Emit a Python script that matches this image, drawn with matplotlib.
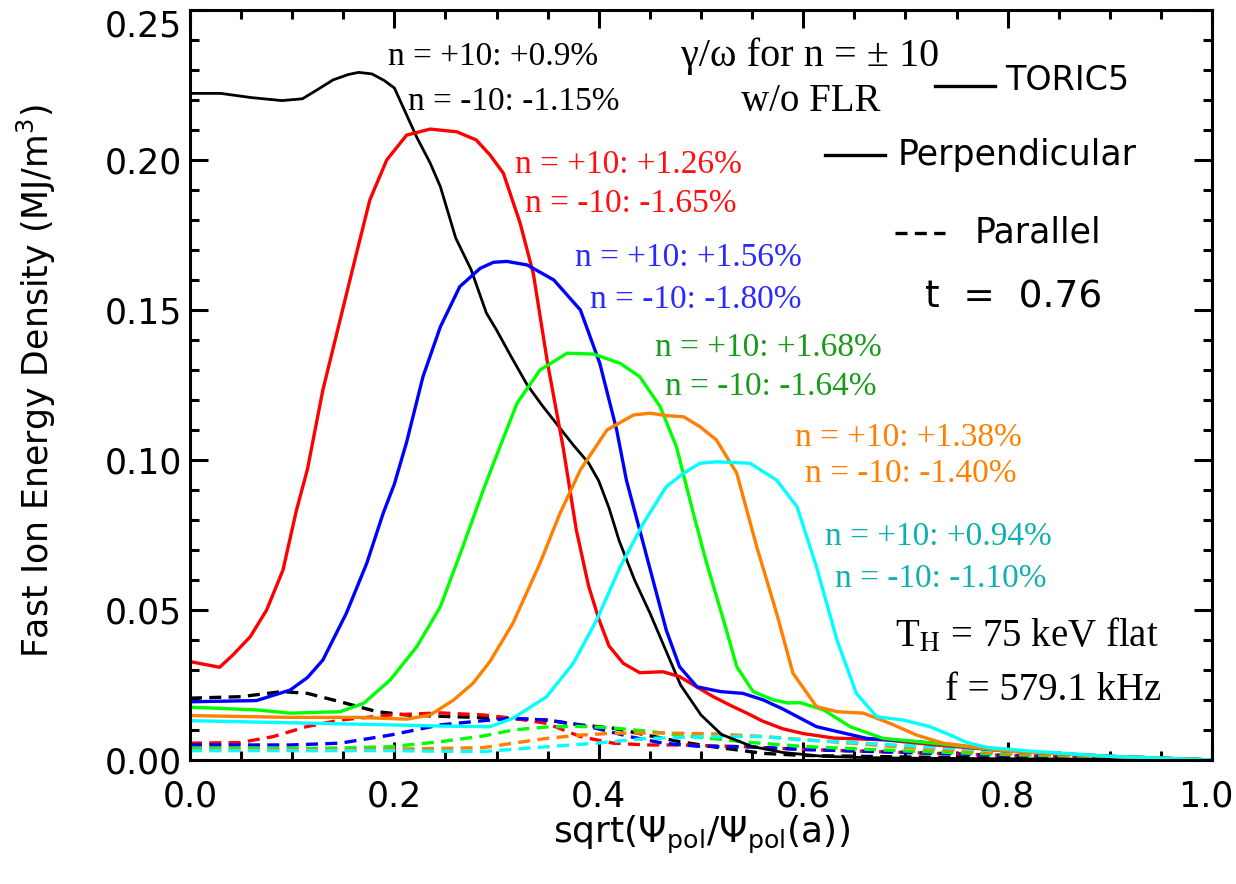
import numpy as np
import matplotlib.pyplot as plt
from matplotlib.ticker import MultipleLocator, FuncFormatter

plt.rcParams['mathtext.fontset'] = 'dejavusans'

SANS = 'DejaVu Sans'
SERIF = 'Liberation Serif'

############################ profili (perpendicolare, linea continua) ############################
x_perp_k = [0.00, 0.03, 0.06, 0.09, 0.11, 0.125, 0.14, 0.155, 0.165, 0.178, 0.19, 0.20, 0.212, 0.222,
            0.235, 0.245, 0.26, 0.275, 0.29, 0.30, 0.315, 0.33, 0.345, 0.36, 0.375, 0.39, 0.40, 0.41,
            0.42, 0.435, 0.45, 0.465, 0.48, 0.50, 0.52, 0.55, 0.58, 0.62, 0.66, 0.70, 0.80, 0.90, 1.00]
y_perp_k = [0.2222, 0.2222, 0.2208, 0.2198, 0.2204, 0.2235, 0.2267, 0.2285, 0.2292, 0.2287, 0.2265,
            0.2240, 0.2150, 0.2075, 0.1990, 0.1911, 0.1740, 0.1635, 0.1490, 0.1433, 0.1340, 0.1250,
            0.1180, 0.1115, 0.1050, 0.0990, 0.0930, 0.0840, 0.0730, 0.0600, 0.0490, 0.0370, 0.0250,
            0.0150, 0.0085, 0.0045, 0.0025, 0.0012, 0.0008, 0.0006, 0.0004, 0.0002, 0.0]

x_perp_r = [0.00, 0.029, 0.042, 0.059, 0.075, 0.091, 0.104, 0.115, 0.13, 0.15, 0.163, 0.176, 0.1925,
            0.212, 0.235, 0.261, 0.28, 0.2935, 0.3066, 0.323, 0.336, 0.35, 0.365, 0.378, 0.39, 0.40,
            0.41, 0.424, 0.44, 0.463, 0.479, 0.495, 0.512, 0.53, 0.545, 0.56, 0.58, 0.60, 0.63, 0.68,
            0.73, 0.80, 0.90, 1.00]
y_perp_r = [0.0328, 0.0309, 0.0350, 0.0411, 0.0500, 0.0633, 0.0830, 0.0970, 0.1233, 0.1510, 0.1690,
            0.1867, 0.2000, 0.2083, 0.2103, 0.2094, 0.2067, 0.2017, 0.1956, 0.1790, 0.1620, 0.1320,
            0.1044, 0.0767, 0.0580, 0.0470, 0.0380, 0.0322, 0.0291, 0.0294, 0.0278, 0.0245, 0.0211,
            0.0180, 0.0156, 0.0130, 0.0104, 0.0088, 0.0073, 0.0067, 0.0050, 0.0030, 0.0012, 0.0]

x_perp_b = [0.00, 0.065, 0.098, 0.115, 0.13, 0.153, 0.173, 0.189, 0.20, 0.212, 0.228, 0.245, 0.264,
            0.284, 0.297, 0.31, 0.33, 0.356, 0.382, 0.401, 0.4175, 0.427, 0.44, 0.453, 0.466, 0.479,
            0.496, 0.519, 0.541, 0.561, 0.58, 0.613, 0.662, 0.711, 0.744, 0.80, 0.90, 1.00]
y_perp_b = [0.0194, 0.0198, 0.0233, 0.0275, 0.0333, 0.0489, 0.0656, 0.0822, 0.0920, 0.1060, 0.1278,
            0.1444, 0.1578, 0.1639, 0.1659, 0.1662, 0.1650, 0.1600, 0.1500, 0.1322, 0.1100, 0.0933,
            0.0767, 0.0600, 0.0433, 0.0311, 0.0244, 0.0228, 0.0222, 0.0200, 0.0170, 0.0111, 0.0072,
            0.0061, 0.0050, 0.0030, 0.0012, 0.0]

x_perp_g = [0.00, 0.065, 0.098, 0.147, 0.17, 0.196, 0.222, 0.245, 0.267, 0.287, 0.297, 0.32, 0.3425,
            0.369, 0.395, 0.421, 0.44, 0.46, 0.476, 0.4925, 0.5055, 0.522, 0.535, 0.551, 0.571, 0.585,
            0.597, 0.62, 0.646, 0.678, 0.727, 0.80, 0.90, 1.00]
y_perp_g = [0.0176, 0.0167, 0.0156, 0.0161, 0.0189, 0.0267, 0.0378, 0.0511, 0.0711, 0.0900, 0.0989,
            0.1189, 0.1300, 0.1356, 0.1353, 0.1322, 0.1278, 0.1178, 0.1044, 0.0822, 0.0656, 0.0467,
            0.0311, 0.0228, 0.0200, 0.0190, 0.0191, 0.0167, 0.0111, 0.0072, 0.0056, 0.0030, 0.0012, 0.0]

x_perp_o = [0.00, 0.098, 0.163, 0.212, 0.235, 0.258, 0.277, 0.2935, 0.316, 0.3425, 0.362, 0.382, 0.408,
            0.434, 0.45, 0.466, 0.483, 0.499, 0.515, 0.535, 0.5545, 0.574, 0.59, 0.613, 0.633, 0.659,
            0.685, 0.711, 0.737, 0.80, 0.90, 1.00]
y_perp_o = [0.0148, 0.0142, 0.0142, 0.0136, 0.0150, 0.0200, 0.0256, 0.0328, 0.0456, 0.0656, 0.0822,
            0.0967, 0.1100, 0.1150, 0.1156, 0.1148, 0.1144, 0.1111, 0.1067, 0.0956, 0.0711, 0.0489,
            0.0289, 0.0178, 0.0161, 0.0156, 0.0122, 0.0083, 0.0056, 0.0030, 0.0012, 0.0]

x_perp_c = [0.00, 0.098, 0.196, 0.245, 0.2935, 0.316, 0.349, 0.375, 0.398, 0.421, 0.4436, 0.466, 0.483,
            0.499, 0.515, 0.548, 0.574, 0.594, 0.613, 0.633, 0.652, 0.672, 0.698, 0.724, 0.744, 0.76,
            0.78, 0.82, 0.90, 1.00]
y_perp_c = [0.0131, 0.0124, 0.0117, 0.0113, 0.0111, 0.0139, 0.0211, 0.0322, 0.0467, 0.0644, 0.0789,
            0.0911, 0.0956, 0.0989, 0.0994, 0.0989, 0.0933, 0.0844, 0.0644, 0.0400, 0.0222, 0.0144,
            0.0133, 0.0111, 0.0083, 0.0058, 0.0042, 0.0030, 0.0012, 0.0]

############################ profili (parallelo, linea tratteggiata) ############################
x_par_k = [0.00, 0.05, 0.09, 0.115, 0.147, 0.183, 0.212, 0.25, 0.30, 0.35, 0.382, 0.414, 0.447, 0.479,
           0.512, 0.561, 0.60, 0.70, 0.80, 0.90, 1.00]
y_par_k = [0.0206, 0.0211, 0.0228, 0.0222, 0.0194, 0.0161, 0.0150, 0.0145, 0.0140, 0.0133, 0.0117,
           0.0106, 0.0083, 0.0061, 0.0044, 0.0022, 0.0015, 0.0010, 0.0006, 0.0003, 0.0]

x_par_r = [0.00, 0.049, 0.0815, 0.114, 0.147, 0.196, 0.245, 0.287, 0.316, 0.349, 0.382, 0.414, 0.447,
           0.479, 0.545, 0.60, 0.70, 0.80, 0.90, 1.00]
y_par_r = [0.0056, 0.0058, 0.0078, 0.0111, 0.0133, 0.0150, 0.0157, 0.0150, 0.0139, 0.0122, 0.0078,
           0.0056, 0.0050, 0.0050, 0.0044, 0.0035, 0.0025, 0.0015, 0.0008, 0.0]

x_par_b = [0.00, 0.098, 0.147, 0.196, 0.245, 0.287, 0.316, 0.349, 0.391, 0.43, 0.463, 0.496, 0.545,
           0.60, 0.70, 0.80, 0.90, 1.00]
y_par_b = [0.0050, 0.0050, 0.0056, 0.0083, 0.0117, 0.0131, 0.0139, 0.0133, 0.0111, 0.0078, 0.0056,
           0.0046, 0.0044, 0.0035, 0.0025, 0.0015, 0.0008, 0.0]

x_par_g = [0.00, 0.13, 0.196, 0.245, 0.287, 0.316, 0.349, 0.38, 0.41, 0.45, 0.50, 0.55, 0.60, 0.70,
           0.80, 0.90, 1.00]
y_par_g = [0.0039, 0.0039, 0.0044, 0.0061, 0.0080, 0.0100, 0.0110, 0.0112, 0.0108, 0.0095, 0.0075,
           0.0058, 0.0045, 0.0030, 0.0018, 0.0009, 0.0]

x_par_o = [0.00, 0.196, 0.287, 0.316, 0.349, 0.382, 0.414, 0.463, 0.512, 0.561, 0.60, 0.65, 0.70,
           0.80, 0.90, 1.00]
y_par_o = [0.0033, 0.0036, 0.0041, 0.0056, 0.0072, 0.0083, 0.0089, 0.0090, 0.0087, 0.0078, 0.0068,
           0.0055, 0.0042, 0.0022, 0.0010, 0.0]

x_par_c = [0.00, 0.196, 0.287, 0.349, 0.398, 0.447, 0.512, 0.561, 0.597, 0.65, 0.70, 0.75, 0.80,
           0.90, 1.00]
y_par_c = [0.0031, 0.0031, 0.0028, 0.0044, 0.0056, 0.0072, 0.0078, 0.0078, 0.0067, 0.0058, 0.0048,
           0.0038, 0.0028, 0.0012, 0.0]

# tassi di crescita gamma/omega per n = +10 / -10
growth_plus = ['+0.9', '+1.26', '+1.56', '+1.68', '+1.38', '+0.94']
growth_minus = ['-1.15', '-1.65', '-1.80', '-1.64', '-1.40', '-1.10']

line_colors = ['black', '#ff0000', '#0000ff', '#00ff00', '#ff7f00', '#00ffff']
text_colors = ['black', '#ff1010', '#2a2aff', '#1a9a1a', '#ff8000', '#10b0b0']

perp = [(x_perp_k, y_perp_k), (x_perp_r, y_perp_r), (x_perp_b, y_perp_b),
        (x_perp_g, y_perp_g), (x_perp_o, y_perp_o), (x_perp_c, y_perp_c)]
par = [(x_par_k, y_par_k), (x_par_r, y_par_r), (x_par_b, y_par_b),
       (x_par_g, y_par_g), (x_par_o, y_par_o), (x_par_c, y_par_c)]

# posizione (x sinistra, y) delle etichette n = +10 / n = -10
lab_plus = [(0.194, 0.2345), (0.318, 0.1985), (0.377, 0.1675), (0.455, 0.1375), (0.592, 0.1075), (0.621, 0.0745)]
lab_minus = [(0.213, 0.2195), (0.328, 0.1855), (0.391, 0.1535), (0.465, 0.1245), (0.602, 0.0955), (0.631, 0.0605)]

dash = (0, (3.6, 2.2))

fig = plt.figure(figsize=(12.36, 8.84), dpi=100)
ax = fig.add_axes([0.1537, 0.1403, 0.8269, 0.8484])

for (xs, ys), c in zip(par, line_colors):
    ax.plot(xs, ys, color=c, lw=2.4, ls=dash)
for (xs, ys), c in zip(perp, line_colors):
    ax.plot(xs, ys, color=c, lw=2.4 if c != 'black' else 2.0)

for i in range(6):
    ax.text(lab_plus[i][0], lab_plus[i][1], 'n = +10: %s%%' % growth_plus[i],
            color=text_colors[i], family=SERIF, fontsize=24, ha='left', va='center')
    ax.text(lab_minus[i][0], lab_minus[i][1], 'n = -10: %s%%' % growth_minus[i],
            color=text_colors[i], family=SERIF, fontsize=24, ha='left', va='center')

ax.text(0.607, 0.2345, 'γ/ω for n = ± 10', family=SERIF, fontsize=29, ha='center', va='center')
ax.text(0.607, 0.2195, 'w/o FLR', family=SERIF, fontsize=28, ha='center', va='center')

# legenda
ax.plot([0.729, 0.788], [0.2245, 0.2245], color='black', lw=2.4)
ax.text(0.798, 0.2265, 'TORIC5', family=SANS, fontsize=24, ha='left', va='center')
ax.plot([0.621, 0.680], [0.2017, 0.2017], color='black', lw=2.4)
ax.text(0.692, 0.2017, 'Perpendicular', family=SANS, fontsize=25, ha='left', va='center')
ax.plot([0.690, 0.739], [0.1757, 0.1757], color='black', lw=2.4, ls=dash)
ax.text(0.768, 0.1757, 'Parallel', family=SANS, fontsize=25, ha='left', va='center')
ax.text(0.719, 0.1543, 't  =  0.76', family=SANS, fontsize=27, ha='left', va='center')

ax.text(0.690, 0.041, r'T$_{\mathrm{H}}$ = 75 keV flat', family=SERIF, math_fontfamily='stix',
        fontsize=28, ha='left', va='center')
ax.text(0.739, 0.0233, 'f = 579.1 kHz', family=SERIF, fontsize=28, ha='left', va='center')

# assi
xmax = 1.0
ymax = 0.25
ax.set_xlim(0, xmax)
ax.set_ylim(0, ymax)
ax.xaxis.set_major_locator(MultipleLocator(0.2))
ax.xaxis.set_minor_locator(MultipleLocator(0.05))
ax.yaxis.set_major_locator(MultipleLocator(0.05))
ax.yaxis.set_minor_locator(MultipleLocator(0.01))
# le etichette agli estremi vengono scritte a parte, spostate dentro la figura
ax.xaxis.set_major_formatter(FuncFormatter(lambda v, p: '' if abs(v - xmax) < 1e-9 else '%.1f' % v))
ax.yaxis.set_major_formatter(FuncFormatter(lambda v, p: '' if abs(v - ymax) < 1e-9 else '%.2f' % v))
ax.tick_params(which='both', direction='in', top=True, right=True, width=2.2)
ax.tick_params(which='major', length=13)
ax.tick_params(which='minor', length=6.5)
ax.tick_params(axis='x', which='major', pad=14)
ax.tick_params(axis='y', which='major', pad=6)
for lab in ax.get_xticklabels() + ax.get_yticklabels():
    lab.set_family(SANS)
    lab.set_fontsize(25)
ax.text(-0.0075, ymax, '%.2f' % ymax, transform=ax.get_yaxis_transform(), family=SANS,
        fontsize=25, ha='right', va='top')
ax.text(xmax + 0.021, -0.026, '%.1f' % xmax, transform=ax.get_xaxis_transform(), family=SANS,
        fontsize=25, ha='right', va='top')
for sp in ax.spines.values():
    sp.set_linewidth(2.2)

ax.set_xlabel(r'sqrt($\Psi_{\mathrm{pol}}$/$\Psi_{\mathrm{pol}}$(a))', family=SANS, fontsize=26)
ax.set_ylabel(r'Fast Ion Energy Density (MJ/m$^3$)', family=SANS, fontsize=25)
ax.xaxis.label.set_va('center')
ax.xaxis.set_label_coords(0.5, -0.1)
ax.yaxis.label.set_va('center')
ax.yaxis.set_label_coords(-0.15, 0.505)

fig.savefig('out.png', dpi=100)
